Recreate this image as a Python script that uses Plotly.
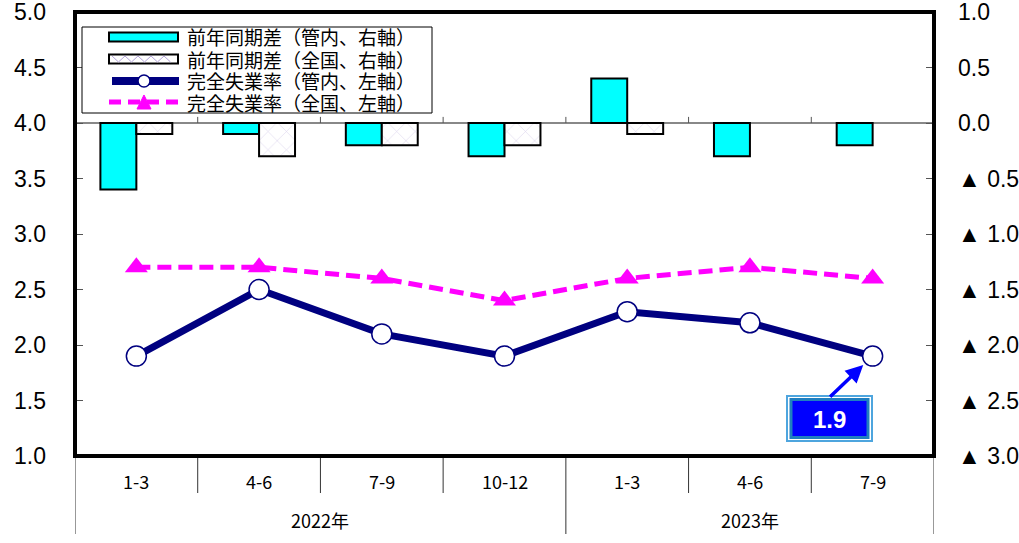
import plotly.graph_objects as go

# ---- data -------------------------------------------------------------
periods = ["1-3", "4-6", "7-9", "10-12", "1-3", "4-6", "7-9"]
years = ["2022年", "2023年"]
year_ranges = [(0, 3), (4, 6)]

# year-on-year change (percentage points, right axis)
diff_local = [-0.6, -0.1, -0.2, -0.3, 0.4, -0.3, -0.2]
diff_national = [-0.1, -0.3, -0.2, -0.2, -0.1, 0.0, 0.0]

# unemployment rate (%, left axis)
rate_local = [1.9, 2.5, 2.1, 1.9, 2.3, 2.2, 1.9]
rate_national = [2.7, 2.7, 2.6, 2.4, 2.6, 2.7, 2.6]

left_ticks = [1.0, 1.5, 2.0, 2.5, 3.0, 3.5, 4.0, 4.5, 5.0]
right_ticks = [-3.0, -2.5, -2.0, -1.5, -1.0, -0.5, 0.0, 0.5, 1.0]
right_labels = [("▲ %.1f" % -v) if v < 0 else "%.1f" % v for v in right_ticks]

legend_names = [
    "前年同期差（管内、右軸）",
    "前年同期差（全国、右軸）",
    "完全失業率（管内、左軸）",
    "完全失業率（全国、左軸）",
]

# ---- styling ----------------------------------------------------------
W, H = 1019, 543
L, R, T, B = 75, 934, 12, 456
CYAN = "#00FFFF"
NAVY = "#000080"
MAGENTA = "#FF00FF"
HATCH = "#b3a3d9"
NUM_FONT = "Liberation Sans Narrow, Arial Narrow, Liberation Sans, Arial"
JP_FONT = "Noto Sans CJK JP, sans-serif"


def px(x):
    return (x - L) / (R - L)


def py(y):
    return (B - y) / (B - T)


x = list(range(len(periods)))

fig = go.Figure()

fig.add_trace(go.Bar(
    x=x, y=diff_local, name=legend_names[0], yaxis="y",
    marker=dict(color=CYAN, line=dict(color="black", width=2)),
))
fig.add_trace(go.Bar(
    x=x, y=diff_national, name=legend_names[1], yaxis="y",
    marker=dict(color="white",
                line=dict(color="black", width=[2 if v != 0 else 0 for v in diff_national]),
                pattern=dict(shape="x", fgcolor=HATCH, bgcolor="white",
                             size=13, solidity=0.08)),
))
fig.add_trace(go.Scatter(
    x=x, y=rate_national, name=legend_names[3], yaxis="y2",
    mode="lines+markers",
    line=dict(color=MAGENTA, width=5, dash="14px,7px"),
    marker=dict(symbol="triangle-up", size=20, color=MAGENTA),
))
fig.add_trace(go.Scatter(
    x=x, y=rate_local, name=legend_names[2], yaxis="y2",
    mode="lines+markers",
    line=dict(color=NAVY, width=7),
    marker=dict(symbol="circle", size=20, color="white",
                line=dict(color=NAVY, width=1.5)),
))

shapes = []
annotations = []

# small ticks on the zero line at category boundaries
for b in range(len(periods) - 1):
    shapes.append(dict(type="line", xref="x", yref="y", x0=b + 0.5, x1=b + 0.5,
                       y0=0, y1=0.055, line=dict(color="#555555", width=1)))

# plot frame
shapes.append(dict(type="rect", xref="paper", yref="paper", x0=0, x1=1, y0=0, y1=1,
                   line=dict(color="black", width=4)))

# category axis below the frame
for b in range(len(periods) + 1):
    xb = b - 0.5
    full = b in (0, len(periods)) or b == year_ranges[1][0]
    shapes.append(dict(type="line", xref="x", yref="paper", x0=xb, x1=xb,
                       y0=py(458), y1=py(534 if full else 493),
                       line=dict(color="#333333", width=1)))
for i, p in enumerate(periods):
    annotations.append(dict(x=i, y=py(481), xref="x", yref="paper", text=p,
                            xanchor="center", yanchor="middle", showarrow=False,
                            font=dict(family=JP_FONT, size=18, color="black")))
for yr, (a, b) in zip(years, year_ranges):
    annotations.append(dict(x=(a + b) / 2, y=py(520), xref="x", yref="paper", text=yr,
                            xanchor="center", yanchor="middle", showarrow=False,
                            font=dict(family=JP_FONT, size=18, color="black")))

# legend box
shapes.append(dict(type="rect", xref="paper", yref="paper", x0=px(82), x1=px(432),
                   y0=py(113), y1=py(27), line=dict(color="black", width=1),
                   fillcolor="white"))
rows = [37, 59, 81, 102]
sx0, sx1 = 109, 178
# row 1: cyan bar swatch
shapes.append(dict(type="rect", xref="paper", yref="paper", x0=px(sx0), x1=px(sx1),
                   y0=py(rows[0] + 4.5), y1=py(rows[0] - 4.5),
                   fillcolor=CYAN, line=dict(color="black", width=2)))
# row 2: hatched bar swatch
shapes.append(dict(type="rect", xref="paper", yref="paper", x0=px(sx0), x1=px(sx1),
                   y0=py(rows[1] + 4.5), y1=py(rows[1] - 4.5),
                   fillcolor="white", line=dict(color="black", width=2)))
zz = []
xx = sx0 + 3
up = True
while xx <= sx1 - 3:
    yy = rows[1] - 3 if up else rows[1] + 3
    zz.append("%s %.4f,%.4f" % ("M" if not zz else "L", px(xx), py(yy)))
    xx += 6.5
    up = not up
shapes.append(dict(type="path", xref="paper", yref="paper", path=" ".join(zz),
                   line=dict(color=HATCH, width=1)))
# row 3: navy line with circle
shapes.append(dict(type="line", xref="paper", yref="paper", x0=px(sx0 + 3), x1=px(sx1 + 1),
                   y0=py(rows[2]), y1=py(rows[2]), line=dict(color=NAVY, width=8)))
shapes.append(dict(type="circle", xref="paper", yref="paper", x0=px(138), x1=px(150),
                   y0=py(rows[2] + 6), y1=py(rows[2] - 6), fillcolor="white",
                   line=dict(color=NAVY, width=1.5)))
# row 4: magenta dashed line with triangle
shapes.append(dict(type="line", xref="paper", yref="paper", x0=px(sx0), x1=px(sx1),
                   y0=py(rows[3]), y1=py(rows[3]),
                   line=dict(color=MAGENTA, width=5, dash="12px,7px")))
shapes.append(dict(type="path", xref="paper", yref="paper",
                   path="M %.4f,%.4f L %.4f,%.4f L %.4f,%.4f Z" % (
                       px(137), py(rows[3] + 7), px(151), py(rows[3] + 7), px(144), py(rows[3] - 7)),
                   fillcolor=MAGENTA, line=dict(color=MAGENTA, width=1)))
for r, name in zip(rows, legend_names):
    annotations.append(dict(x=px(185), y=py(r), xref="paper", yref="paper", text=name,
                            xanchor="left", yanchor="middle", showarrow=False,
                            font=dict(family=JP_FONT, size=19, color="black")))

# callout for the latest local rate
shapes.append(dict(type="rect", xref="paper", yref="paper", x0=px(787), x1=px(872),
                   y0=py(441), y1=py(396), fillcolor="white",
                   line=dict(color="#4ea5de", width=2)))
shapes.append(dict(type="rect", xref="paper", yref="paper", x0=px(791), x1=px(868),
                   y0=py(437.5), y1=py(399.5), fillcolor="#0000FF",
                   line=dict(color="#1f7fc0", width=3)))
annotations.append(dict(x=px(829.5), y=py(419), xref="paper", yref="paper",
                        text="<b>%.1f</b>" % rate_local[-1], showarrow=False,
                        xanchor="center", yanchor="middle",
                        font=dict(family="Liberation Sans, Arial", size=24, color="white")))
annotations.append(dict(x=x[-1], y=rate_local[-1], xref="x", yref="y2", text="",
                        showarrow=True, ax=-44, ay=42, axref="pixel", ayref="pixel",
                        arrowcolor="#0000FF", arrowwidth=3.5, arrowhead=2, arrowsize=1,
                        standoff=13))

fig.update_layout(
    width=W, height=H,
    margin=dict(l=L, r=W - R, t=T, b=H - B, pad=0, autoexpand=False),
    paper_bgcolor="white", plot_bgcolor="white",
    showlegend=False,
    barmode="group", bargap=0.414, bargroupgap=0,
    xaxis=dict(range=[-0.5, len(periods) - 0.5], visible=False, fixedrange=True),
    yaxis=dict(side="right", range=[-3, 1], tickvals=right_ticks, ticktext=right_labels,
               ticks="inside", ticklen=8, tickcolor="#555555", tickwidth=1,
               showgrid=False, showline=False, automargin=False,
               zeroline=True, zerolinecolor="#888888", zerolinewidth=1.5,
               ticklabelstandoff=23, ticklabeloverflow="allow",
               tickfont=dict(family=NUM_FONT, size=23, color="black")),
    yaxis2=dict(side="left", overlaying="y", range=[1, 5], tickvals=left_ticks,
                tickformat=".1f", ticks="inside", ticklen=8, tickcolor="#555555",
                tickwidth=1, showgrid=False, showline=False, zeroline=False,
                automargin=False,
                ticklabelstandoff=28, ticklabeloverflow="allow",
                tickfont=dict(family=NUM_FONT, size=23, color="black")),
    shapes=shapes,
    annotations=annotations,
)

fig.write_html("out.html")
